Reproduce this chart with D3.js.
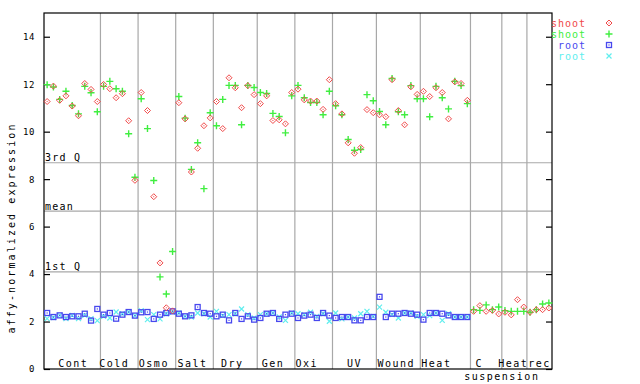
<!DOCTYPE html>
<html>
<head>
<meta charset="utf-8">
<script src="https://cdn.jsdelivr.net/npm/d3@7"></script>
<style>
    body { margin: 0; background: #fff; }
    text { font-family: "DejaVu Sans Mono", monospace; }
</style>
</head>
<body>
<div id="chart"></div>
<script>
/*jslint browser: true*/

var groupNames = ['Cont', 'Cold', 'Osmo', 'Salt', 'Dry', 'Gen', 'Oxi', 'UV', 'Wound', 'Heat', 'C', 'Heat', 'rec'];
var groupSizes = [9, 6, 6, 6, 7, 6, 6, 7, 7, 8, 5, 4, 4];

var shootRep1 = [
    11.27, 11.92, 11.32, 11.51, 11.08, 10.67, 12.03, 11.78, 11.27,
    11.99, 11.81, 11.43, 11.60, 10.46, 7.95,
    11.65, 10.89, 7.26, 4.47, 2.58, 2.45,
    11.22, 10.54, 8.30, 9.30, 10.25, 10.58,
    11.27, 10.13, 12.27, 11.85, 11.01, 11.94, 11.56,
    11.18, 11.51, 10.47, 10.50, 10.33, 11.65,
    11.79, 11.34, 11.29, 11.29, 10.94, 12.19,
    11.18, 10.75, 9.53, 9.09, 9.33, 10.93, 10.80,
    10.71, 10.63, 12.19, 10.89, 10.29, 11.89, 11.57,
    11.70, 11.48, 11.85, 11.65, 10.54, 12.10, 12.03, 11.32,
    2.43, 2.67, 2.43, 2.47, 2.32,
    2.39, 2.28, 2.92, 2.61,
    2.39, 2.50, 2.50, 2.57
];
var shootRep2 = [
    11.98, 11.88, 11.36, 11.70, 11.10, 10.75, 11.91, 11.64, 10.84,
    11.91, 12.12, 11.81, 11.70, 9.91, 8.08,
    11.39, 10.13, 7.94, 3.88, 3.16, 4.95,
    11.48, 10.57, 8.41, 9.53, 7.60, 10.80,
    10.25, 11.36, 11.95, 11.95, 10.29, 11.95, 11.86,
    11.65, 11.61, 10.77, 10.64, 9.95, 11.51,
    11.95, 11.43, 11.23, 11.23, 10.71, 11.70,
    11.09, 10.71, 9.67, 9.22, 9.25, 11.56, 11.30,
    10.85, 10.29, 12.24, 10.84, 10.71, 11.94, 11.39,
    11.39, 10.63, 11.91, 11.43, 10.96, 12.12, 11.94, 11.18,
    2.50, 2.47, 2.70, 2.50, 2.61,
    2.46, 2.43, 2.43, 2.43,
    2.39, 2.50, 2.74, 2.78
];
var rootRep1 = [
    2.36, 2.19, 2.26, 2.19, 2.22, 2.22, 2.33, 2.04, 2.53,
    2.29, 2.36, 2.12, 2.29, 2.40, 2.25,
    2.39, 2.40, 2.11, 2.29, 2.36, 2.43,
    2.33, 2.22, 2.26, 2.61, 2.36, 2.33,
    2.22, 2.29, 2.05, 2.36, 2.11, 2.22, 2.08,
    2.15, 2.33, 2.36, 2.11, 2.29, 2.33,
    2.15, 2.25, 2.29, 2.15, 2.36, 2.25,
    2.15, 2.19, 2.19, 2.05, 2.05, 2.19, 2.19,
    3.04, 2.19, 2.33, 2.33, 2.36, 2.33, 2.29,
    2.08, 2.36, 2.36, 2.33, 2.26, 2.19, 2.19, 2.19
];
var rootRep2 = [
    2.12, 2.17, 2.26, 2.12, 2.26, 2.12, 2.26, 2.12, 2.04,
    2.22, 2.15, 2.40, 2.33, 2.40, 2.25,
    2.46, 2.08, 2.29, 2.11, 2.33, 2.40,
    2.36, 2.22, 2.19, 2.36, 2.33, 2.19,
    2.43, 2.25, 2.29, 2.33, 2.53, 2.29, 2.15,
    2.29, 2.33, 2.36, 2.19, 2.05, 2.36,
    2.33, 2.29, 2.39, 2.22, 2.33, 2.01,
    2.36, 2.11, 2.19, 2.15, 2.33, 2.43, 2.22,
    2.61, 2.39, 2.29, 2.15, 2.36, 2.36, 2.22,
    2.29, 2.25, 2.36, 2.05, 2.33, 2.19, 2.19, 2.19
];

var refNames = ['3rd Q', 'mean', '1st Q'];
var refValues = [8.69, 6.65, 4.09];
var yTicks = [0, 2, 4, 6, 8, 10, 12, 14];
var legendNames = ['shoot', 'shoot', 'root', 'root'];

(function (d3) {
    'use strict';

    var width = 640, height = 384,
        left = 44, right = 552, top = 13, bottom = 369;

    // label nudges (px) to match where the original put the group names
    var labelNudge = [1, -5, -3, -2, -3, -3, -7, 0, -2, -9, -7, -1, 0];

    var series = [
        {values: shootRep1, color: '#f04848', shape: 'diamond'},
        {values: shootRep2, color: '#40ee40', shape: 'plus'},
        {values: rootRep1, color: '#4848ee', shape: 'square'},
        {values: rootRep2, color: '#60eeee', shape: 'cross'}
    ];

    var nCols = d3.sum(groupSizes);
    var x = d3.scaleLinear().domain([0, nCols]).range([left, right]);
    var y = d3.scaleLinear().domain([0, 15]).range([bottom, top]);

    var bounds = d3.cumsum(groupSizes);
    var starts = [0].concat(Array.from(bounds).slice(0, -1));

    var svg = d3.select('#chart').append('svg')
        .attr('width', width)
        .attr('height', height);

    // group separators
    svg.selectAll('.sep')
        .data(Array.from(bounds).slice(0, -1)).enter()
      .append('line')
        .attr('x1', function (d) { return x(d); })
        .attr('x2', function (d) { return x(d); })
        .attr('y1', top)
        .attr('y2', bottom)
        .style('stroke', '#a8a8a8')
        .style('stroke-width', 1.2);

    // quartile / mean lines
    svg.selectAll('.ref')
        .data(refValues).enter()
      .append('line')
        .attr('x1', left)
        .attr('x2', right)
        .attr('y1', function (d) { return y(d); })
        .attr('y2', function (d) { return y(d); })
        .style('stroke', '#a8a8a8')
        .style('stroke-width', 1.2);

    svg.selectAll('.refLabel')
        .data(refNames).enter()
      .append('text')
        .attr('x', left + 1)
        .attr('y', function (d, i) { return y(refValues[i]) - 1.5; })
        .attr('font-size', 10)
        .attr('letter-spacing', 1.2)
        .text(function (d) { return d; });

    // axes frame
    svg.append('rect')
        .attr('x', left)
        .attr('y', top)
        .attr('width', right - left)
        .attr('height', bottom - top)
        .style('fill', 'none')
        .style('stroke', '#000')
        .style('stroke-width', 1.2);

    var yAxisL = d3.axisLeft(y).tickValues(yTicks).tickSizeInner(-6).tickSizeOuter(0).tickPadding(9);
    var gl = svg.append('g').attr('transform', 'translate(' + left + ',0)').call(yAxisL);
    gl.select('.domain').remove();
    gl.selectAll('text')
        .attr('font-family', '"DejaVu Sans Mono", monospace')
        .attr('font-size', 9)
        .attr('letter-spacing', 0.6)
        .attr('fill', '#000');
    gl.selectAll('line').style('stroke', '#000').style('stroke-width', 1.2);

    var yAxisR = d3.axisRight(y).tickValues(yTicks).tickSizeInner(-6).tickSizeOuter(0).tickFormat('');
    var gr = svg.append('g').attr('transform', 'translate(' + right + ',0)').call(yAxisR);
    gr.select('.domain').remove();
    gr.selectAll('line').style('stroke', '#000').style('stroke-width', 1.2);

    svg.append('text')
        .attr('transform', 'translate(15,228) rotate(-90)')
        .attr('text-anchor', 'middle')
        .attr('font-size', 10)
        .attr('letter-spacing', 2.1)
        .text('affy-normalized expression');

    // group labels
    svg.selectAll('.glabel')
        .data(groupNames).enter()
      .append('text')
        .attr('x', function (d, i) { return (x(starts[i]) + x(bounds[i])) / 2 + labelNudge[i]; })
        .attr('y', bottom - 2)
        .attr('text-anchor', 'middle')
        .attr('font-size', 10)
        .attr('letter-spacing', 1.5)
        .text(function (d) { return d; });

    svg.append('text')
        .attr('x', x(bounds[10]))
        .attr('y', bottom + 11)
        .attr('text-anchor', 'middle')
        .attr('font-size', 10)
        .attr('letter-spacing', 1.5)
        .text('suspension');

    function drawMark(g, shape, color) {
        if (shape === 'diamond') {
            g.append('path').attr('d', 'M0,-3L3,0L0,3L-3,0Z')
                .style('fill', 'none').style('stroke', color).style('stroke-width', 1);
            g.append('rect').attr('x', -0.5).attr('y', -0.5).attr('width', 1).attr('height', 1)
                .style('fill', color);
        } else if (shape === 'plus') {
            g.append('path').attr('d', 'M-3.5,0H3.5M0,-3.5V3.5')
                .style('stroke', color).style('stroke-width', 1.4);
        } else if (shape === 'square') {
            g.append('rect').attr('x', -2.5).attr('y', -2.5).attr('width', 5).attr('height', 5)
                .style('fill', 'none').style('stroke', color).style('stroke-width', 1.3);
            g.append('rect').attr('x', -0.6).attr('y', -0.6).attr('width', 1.2).attr('height', 1.2)
                .style('fill', color);
        } else {
            g.append('path').attr('d', 'M-2.5,-2.5L2.5,2.5M-2.5,2.5L2.5,-2.5')
                .style('stroke', color).style('stroke-width', 1.2);
        }
    }

    // points
    series.slice().reverse().forEach(function (s) {
        svg.append('g').selectAll('g')
            .data(s.values).enter()
          .append('g')
            .attr('transform', function (d, i) {
                return 'translate(' + x(i + 0.5) + ',' + y(d) + ')';
            })
            .each(function () { drawMark(d3.select(this), s.shape, s.color); });
    });

    // legend
    var leg = svg.selectAll('.leg')
        .data(legendNames).enter()
      .append('g')
        .attr('transform', function (d, i) { return 'translate(0,' + (23 + i * 11) + ')'; });
    leg.append('text')
        .attr('x', 586)
        .attr('y', 4)
        .attr('text-anchor', 'end')
        .attr('font-size', 10)
        .attr('letter-spacing', 1)
        .style('fill', function (d, i) { return series[i].color; })
        .text(function (d) { return d; });
    leg.append('g')
        .attr('transform', 'translate(609,0)')
        .each(function (d, i) { drawMark(d3.select(this), series[i].shape, series[i].color); });

}(window.d3));
</script>
</body>
</html>
